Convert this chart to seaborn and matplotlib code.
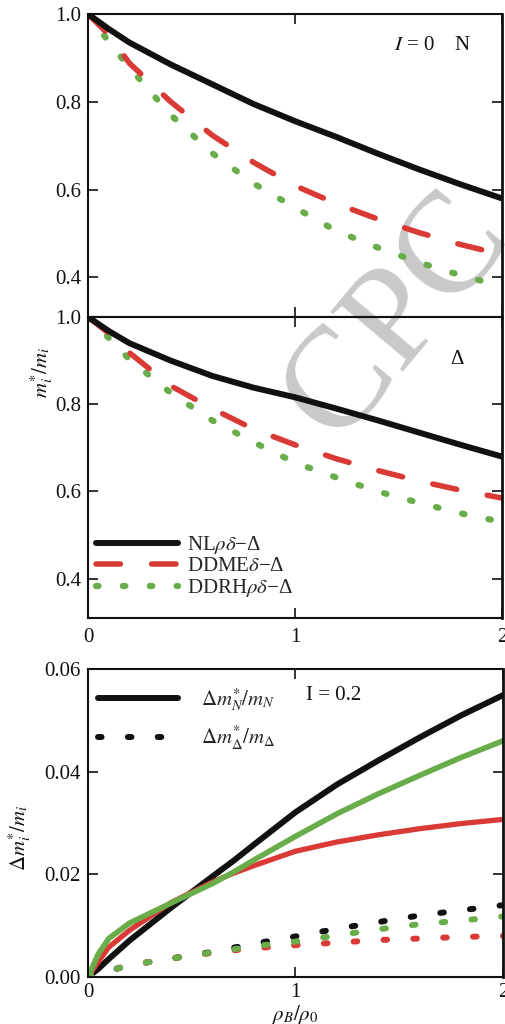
import numpy as np
import pandas as pd
import matplotlib
matplotlib.use("Agg")
import matplotlib.pyplot as plt
import seaborn as sns

sns.set_theme(style="ticks")
plt.rcParams['font.family'] = ['Liberation Serif', 'DejaVu Serif']
plt.rcParams['mathtext.fontset'] = 'stix'

# ---------------- data ----------------
x12 = [0.0, 0.1, 0.2, 0.4, 0.6, 0.8, 1.0, 1.2, 1.4, 1.6, 1.8, 2.0]

# Panel 1: I = 0, nucleon effective mass m*/m
n_nl = [1.0, 0.966, 0.935, 0.885, 0.840, 0.795, 0.756, 0.720, 0.682, 0.646, 0.612, 0.580]
n_ddme = [1.0, 0.953, 0.888, 0.800, 0.724, 0.662, 0.609, 0.568, 0.533, 0.502, 0.475, 0.452]
n_ddrh = [1.0, 0.937, 0.878, 0.770, 0.683, 0.614, 0.559, 0.506, 0.468, 0.434, 0.405, 0.380]

# Panel 2: I = 0, Delta effective mass
d_nl = [1.0, 0.968, 0.940, 0.900, 0.865, 0.838, 0.816, 0.790, 0.763, 0.735, 0.707, 0.680]
d_ddme = [1.0, 0.963, 0.918, 0.842, 0.790, 0.743, 0.707, 0.675, 0.648, 0.624, 0.603, 0.585]
d_ddrh = [1.0, 0.952, 0.903, 0.826, 0.763, 0.713, 0.666, 0.632, 0.600, 0.574, 0.550, 0.530]

# Panel 3: I = 0.2, mass splitting
x14 = [0.0, 0.05, 0.1, 0.2, 0.4, 0.6, 0.7, 0.8, 1.0, 1.2, 1.4, 1.6, 1.8, 2.0]
sN_nl = [0.0, 0.0016, 0.0035, 0.0071, 0.0135, 0.0196, 0.0226, 0.0258, 0.0321, 0.0375, 0.0422, 0.0467, 0.0510, 0.0549]
sN_ddme = [0.0, 0.0030, 0.0058, 0.0091, 0.0145, 0.0185, 0.0202, 0.0217, 0.0245, 0.0263, 0.0277, 0.0289, 0.0299, 0.0307]
sN_ddrh = [0.0, 0.0045, 0.0075, 0.0105, 0.0144, 0.0182, 0.0204, 0.0228, 0.0274, 0.0318, 0.0357, 0.0393, 0.0428, 0.0460]
sD_nl = [0.0, 0.0006, 0.0012, 0.0023, 0.0036, 0.0049, 0.0057, 0.0065, 0.0079, 0.0094, 0.0107, 0.0120, 0.0130, 0.0140]
sD_ddme = [0.0, 0.0006, 0.0012, 0.0023, 0.0036, 0.0047, 0.0052, 0.0056, 0.0062, 0.0067, 0.0072, 0.0075, 0.0078, 0.0080]
sD_ddrh = [0.0, 0.0006, 0.0012, 0.0023, 0.0036, 0.0048, 0.0054, 0.0060, 0.0069, 0.0081, 0.0093, 0.0103, 0.0110, 0.0118]

labels = [r"NL$\rho\delta$−Δ", r"DDME$\delta$−Δ", r"DDRH$\rho\delta$−Δ"]
labels3 = [r"$\Delta m^{*}_{N}/m_{N}$", r"$\Delta m^{*}_{\Delta}/m_{\Delta}$"]
xticks = [0, 1, 2]

BLACK = "#111111"
RED = "#d93a35"
GREEN = "#69ad4a"

# ---------------- figure ----------------
fig = plt.figure(figsize=(5.06, 10.24), dpi=100)
fig.patch.set_facecolor("white")
W, H = 506.0, 1024.0


def axpos(l, r, t, b):
    return [l / W, 1 - b / H, (r - l) / W, (b - t) / H]


ax1 = fig.add_axes(axpos(88, 502, 14, 317))
ax2 = fig.add_axes(axpos(88, 502, 317, 618))
ax3 = fig.add_axes(axpos(88, 503, 669, 977))

FS = 15
solid = dict(linestyle="-", solid_capstyle="round")
dash_red = dict(linestyle=(0, (4.4, 5.6)), dash_capstyle="round")
dot_green = dict(linestyle=(0, (0.4, 3.9)), dash_capstyle="round")
dot_black = dict(linestyle=(0, (0.6, 4.4)), dash_capstyle="round")


def line(ax, x, y, color, lw, style, label=None, z=2):
    df = pd.DataFrame({"x": x, "y": y})
    sns.lineplot(data=df, x="x", y="y", ax=ax, color=color, lw=lw,
                 label=label, legend=False, zorder=z, **style)


for ax, (a, b, c) in ((ax1, (n_nl, n_ddme, n_ddrh)), (ax2, (d_nl, d_ddme, d_ddrh))):
    line(ax, x12, a, BLACK, 4.3, solid, labels[0], 3)
    line(ax, x12, b, RED, 4.0, dash_red, labels[1], 2.5)
    line(ax, x12, c, GREEN, 4.5, dot_green, labels[2], 2)
    ax.set_ylim(0.31, 1.0)
    ax.set_yticks([0.4, 0.6, 0.8, 1.0])
    ax.set_yticklabels(["0.4", "0.6", "0.8", "1.0"])

# panel 3
line(ax3, x14, sN_nl, BLACK, 4.3, solid, labels3[0], 2)
line(ax3, x14, sD_nl, BLACK, 4.3, dot_black, labels3[1], 2)
line(ax3, x14, sN_ddme, RED, 3.8, solid, None, 2.2)
line(ax3, x14, sN_ddrh, GREEN, 4.0, solid, None, 2.4)
line(ax3, x14, sD_ddme, RED, 4.3, dot_black, None, 2.2)
line(ax3, x14, sD_ddrh, GREEN, 4.3, dot_black, None, 2.4)
ax3.set_ylim(0.0, 0.06)
ax3.set_yticks([0.0, 0.02, 0.04, 0.06])
ax3.set_yticklabels(["0.00", "0.02", "0.04", "0.06"])

for ax in (ax1, ax2, ax3):
    ax.set_facecolor("none")
    ax.set_xlim(0, 2)
    ax.set_xticks(xticks)
    ax.set_xlabel("")
    ax.set_ylabel("")
    ax.tick_params(direction="in", top=True, right=True, length=7, width=1.2,
                   labelsize=FS, colors=BLACK, pad=5)
    for s in ax.spines.values():
        s.set_linewidth(1.5)
        s.set_color(BLACK)
    ax.spines["right"].set_linewidth(2.0)

ax1.set_xticklabels([])
ax2.set_xticklabels([str(t) for t in xticks])
ax3.set_xticklabels([str(t) for t in xticks])
ax2.tick_params(axis="x", pad=7)
ax3.tick_params(axis="x", pad=4)

# legends
h2, l2 = ax2.get_legend_handles_labels()
ax2.legend(h2, l2, loc="lower left", bbox_to_anchor=(-0.01, 0.02), frameon=False,
           fontsize=FS, handlelength=3.9, handletextpad=0.45, labelspacing=0.05,
           borderaxespad=0.2)
h3, l3 = ax3.get_legend_handles_labels()
ax3.legend(h3, l3, loc="upper left", bbox_to_anchor=(-0.005, 0.985), frameon=False,
           fontsize=FS, handlelength=3.8, handletextpad=1.1, labelspacing=0.55,
           borderaxespad=0.2)

# annotations
ax1.text(0.74, 0.895, r"$I$ = 0    N", transform=ax1.transAxes, fontsize=FS,
         ha="left", va="center", color=BLACK)
ax2.text(0.89, 0.86, "Δ", transform=ax2.transAxes, fontsize=FS,
         ha="center", va="center", color=BLACK)
ax3.text(0.525, 0.915, "I = 0.2", transform=ax3.transAxes, fontsize=FS,
         ha="left", va="center", color=BLACK)

fig.text(42 / W, 1 - 372 / H, r"$m^{*}_{i}/m_{i}$", rotation=90, fontsize=FS,
         ha="center", va="center", color=BLACK)
fig.text(20 / W, 1 - 838 / H, r"$\Delta m^{*}_{i}/m_{i}$", rotation=90, fontsize=FS,
         ha="center", va="center", color=BLACK)
fig.text(295 / W, 1 - 1014 / H, r"$\rho_{B}/\rho_{0}$", fontsize=FS,
         ha="center", va="center", color=BLACK)

# watermark
fig.text(398 / W, 1 - 318 / H, "CPC", rotation=50, fontsize=104, color="#c9c9c9",
         ha="center", va="center", zorder=-1)

fig.savefig("out.png", dpi=100, facecolor="white")
